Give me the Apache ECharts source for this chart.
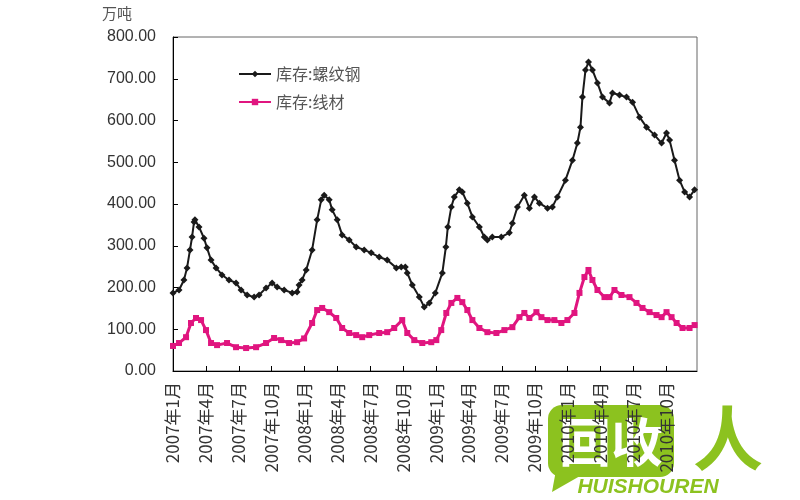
<!DOCTYPE html>
<html>
<head>
<meta charset="utf-8">
<script src="https://cdn.jsdelivr.net/npm/echarts@6/dist/echarts.min.js"></script>
<style>
html,body{margin:0;padding:0;background:#fff;}
#c{width:800px;height:500px;}
</style>
</head>
<body>
<div id="c"></div>
<script>
// x positions: months since 2007-01 (0 = 2007年1月)
const rebarMonths = [0.0,0.55,1.0,1.28,1.55,1.74,1.92,2.0,2.37,2.83,3.1,3.47,3.93,4.47,5.11,5.75,6.21,6.76,7.4,7.85,8.49,9.04,9.5,10.14,10.87,11.32,11.5,11.78,12.15,12.69,13.15,13.52,13.79,14.25,14.52,14.98,15.43,16.07,16.71,17.44,18.08,18.81,19.54,20.37,20.82,21.19,21.37,21.83,22.47,22.92,23.38,23.93,24.57,24.89,25.07,25.39,25.66,26.12,26.39,26.85,27.31,27.95,28.4,28.68,29.13,29.95,30.68,30.96,31.42,32.05,32.51,32.97,33.42,34.16,34.61,35.07,35.8,36.44,36.89,37.17,37.35,37.63,37.9,38.26,38.72,39.18,39.82,40.09,40.73,41.37,41.92,42.56,43.2,43.93,44.57,45.02,45.3,45.75,46.21,46.67,47.12,47.58];
const rebarValues = [187,194,218,247,290,321,357,362,345,318,295,266,247,230,218,211,194,182,177,182,199,211,201,194,187,189,206,218,242,290,362,410,421,410,386,362,326,314,297,290,283,273,266,247,249,249,235,206,177,153,163,187,235,297,345,393,417,434,429,402,369,345,321,314,321,321,331,354,393,421,390,417,402,390,393,417,457,505,546,584,656,721,740,721,690,656,642,666,661,656,644,608,584,565,546,570,553,505,457,429,417,434];

const wireMonths = [0.0,0.55,1.19,1.64,2.1,2.56,3.01,3.47,4.02,4.93,5.75,6.67,7.58,8.49,9.22,9.86,10.59,11.32,11.96,12.69,13.15,13.61,14.25,14.89,15.43,16.07,16.71,17.26,17.9,18.81,19.54,20.18,20.91,21.37,22.01,22.74,23.56,24.02,24.47,24.93,25.39,25.94,26.39,26.85,27.31,27.95,28.68,29.5,30.23,30.96,31.6,32.05,32.51,33.15,33.61,34.16,34.79,35.43,35.98,36.62,37.08,37.53,37.9,38.26,38.72,39.36,39.82,40.27,40.91,41.64,42.28,42.83,43.47,44.11,44.57,45.02,45.48,45.94,46.48,47.12,47.58];
const wireValues = [60,67,81,115,127,122,98,67,62,67,57,55,57,67,79,74,67,69,78,115,146,151,141,127,103,91,86,81,86,91,93,103,122,91,74,67,69,74,98,139,163,175,165,146,122,103,93,91,98,105,129,139,127,141,129,122,122,115,122,139,187,225,242,218,194,177,177,194,182,177,163,151,141,134,129,141,129,115,103,103,110];

const xTickLabels = ['2007年1月','2007年4月','2007年7月','2007年10月','2008年1月','2008年4月','2008年7月','2008年10月','2009年1月','2009年4月','2009年7月','2009年10月','2010年1月','2010年4月','2010年7月','2010年10月'];
const yTickValues = [0,100,200,300,400,500,600,700,800];
const seriesNames = ['库存:螺纹钢','库存:线材'];
const unitLabel = '万吨';

const rebarData = rebarMonths.map((m,i)=>[m, rebarValues[i]]);
const wireData = wireMonths.map((m,i)=>[m, wireValues[i]]);

const chart = echarts.init(document.getElementById('c'), null, {renderer:'canvas'});
const cjk = '"Noto Sans CJK SC", "Noto Sans", sans-serif';

chart.setOption({
  backgroundColor:'#fff',
  animation:false,
  grid:{left:173, right:103, top:37, bottom:129, show:true, borderColor:'#666', borderWidth:1, backgroundColor:'transparent'},
  legend:{
    orient:'vertical', left:233, top:61, itemWidth:32, itemHeight:8, itemGap:12,
    textStyle:{fontFamily:cjk, fontSize:16, color:'#555'},
    data:seriesNames
  },
  xAxis:{
    type:'value', min:0, max:47.8, interval:3,
    axisLine:{show:true, lineStyle:{color:'#000', width:1}},
    axisTick:{show:true, inside:true, length:5, lineStyle:{color:'#000'}},
    splitLine:{show:false},
    axisLabel:{
      rotate:90, margin:11, fontFamily:cjk, fontSize:17, color:'#333',
      showMaxLabel:false,
      formatter:function(v){
        const idx = Math.round(v/3);
        if (Math.abs(v - idx*3) > 1e-6) return '';
        return xTickLabels[idx] || '';
      }
    }
  },
  yAxis:{
    type:'value', min:yTickValues[0], max:yTickValues[yTickValues.length-1], interval:100,
    axisLine:{show:true, lineStyle:{color:'#000', width:1}},
    axisTick:{show:true, inside:true, length:5, lineStyle:{color:'#000'}},
    splitLine:{show:false},
    axisLabel:{margin:17, fontFamily:'"Liberation Sans", Arial, sans-serif', fontSize:16, color:'#333',
      formatter:function(v){return v.toFixed(2);}}
  },
  graphic:[
    {type:'text', left:102, top:6, z:10, style:{text:unitLabel, font:'15px "Noto Sans CJK SC", sans-serif', fill:'#555'}},
    // watermark
    {type:'group', z:100, children:[
      {type:'rect', shape:{x:548, y:405, width:126, height:72, r:14}, style:{fill:'#8cc21f'}},
      {type:'polygon', shape:{points:[[556,470],[552,492],[580,476]]}, style:{fill:'#8cc21f'}},
      {type:'text', style:{x:611, y:442, text:'回收', font:'bold 52px "Noto Sans CJK SC", sans-serif', fill:'#fff', align:'center', verticalAlign:'middle'}},
      {type:'text', style:{x:728, y:438, text:'人', font:'bold 70px "Noto Sans CJK SC", sans-serif', fill:'#8cc21f', align:'center', verticalAlign:'middle'}},
      {type:'text', style:{x:648, y:487, text:'HUISHOUREN', font:'italic bold 21px "Liberation Sans", Arial, sans-serif', fill:'#8cc21f', align:'center', verticalAlign:'middle'}}
    ]}
  ],
  series:[
    {name:seriesNames[0], type:'line', data:rebarData, color:'#1a1a1a',
      lineStyle:{width:2, color:'#1a1a1a'}, symbol:'diamond', symbolSize:7, showAllSymbol:true,
      itemStyle:{color:'#1a1a1a'}},
    {name:seriesNames[1], type:'line', data:wireData, color:'#e0157f',
      lineStyle:{width:3, color:'#e0157f'}, symbol:'rect', symbolSize:6, showAllSymbol:true,
      itemStyle:{color:'#e0157f'}}
  ]
});
</script>
</body>
</html>
